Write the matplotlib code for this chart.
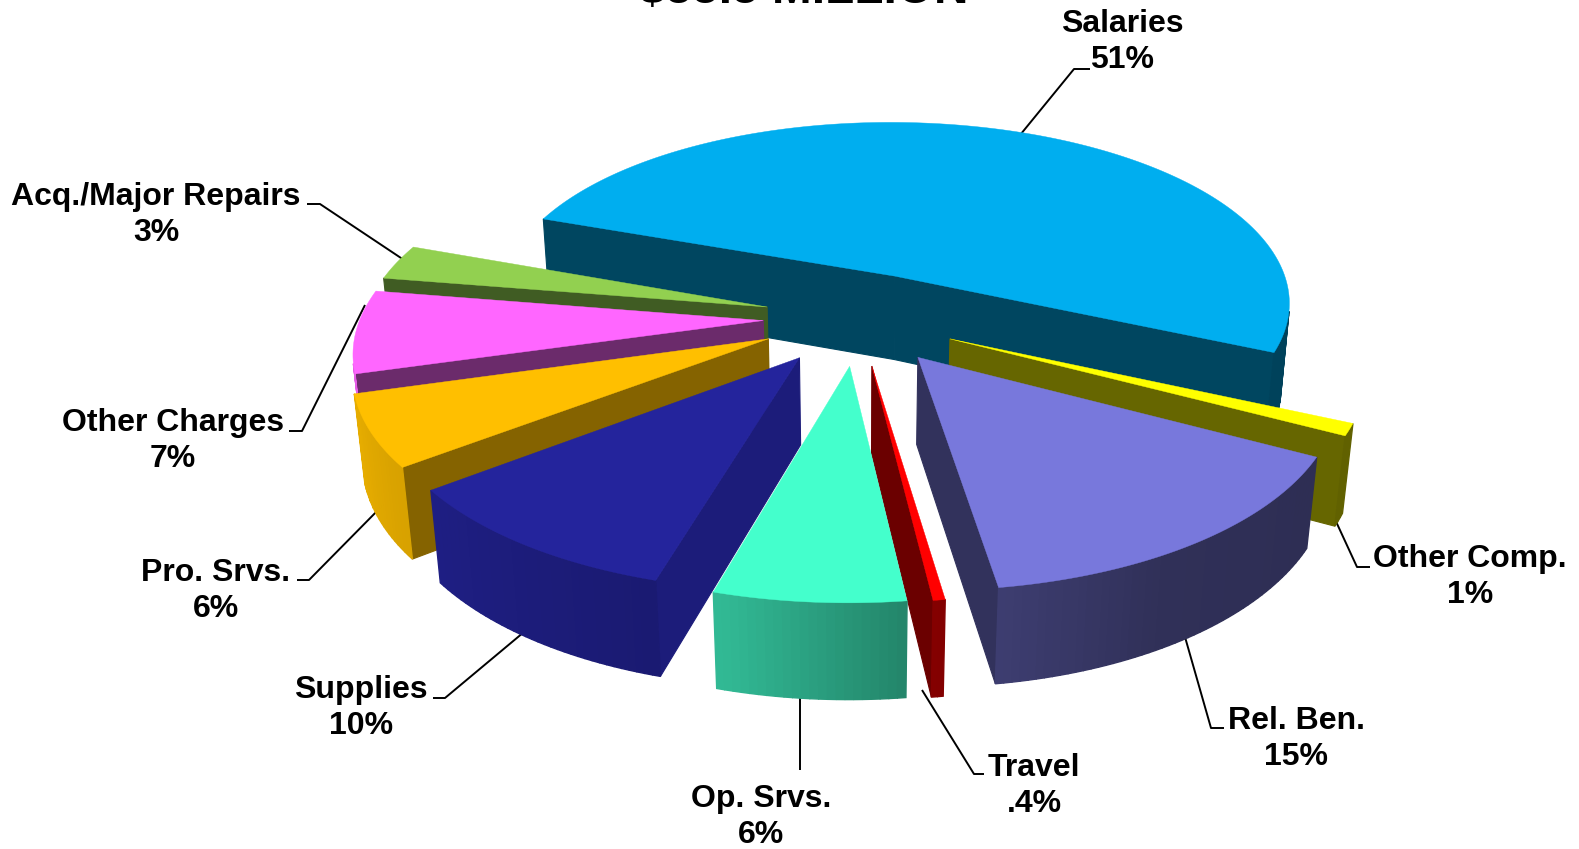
import numpy as np
import matplotlib
matplotlib.use("Agg")
import matplotlib.pyplot as plt

plt.rcParams['font.family'] = ['Liberation Sans', 'DejaVu Sans']

TITLE = "$55.5 MILLION"
names = ['Salaries', 'Other Comp.', 'Rel. Ben.', 'Travel', 'Op. Srvs.',
         'Supplies', 'Pro. Srvs.', 'Other Charges', 'Acq./Major Repairs']
pct_text = ['51%', '1%', '15%', '.4%', '6%', '10%', '6%', '7%', '3%']
values = [51.4, 1, 15, 0.4, 6.4, 10.2, 6, 7, 3]
colors = ['#00AEEF', '#FFFF00', '#7878DC', '#FF0000', '#44FFCC',
          '#24249C', '#FFBF00', '#FF66FF', '#92D050']
wall_shade = [0.40, 0.40, 0.42, 0.42, 0.60, 0.78, 0.52, 0.42, 0.44]
explode = [0.25, 0.25, 0.25, 0.25, 0.25, 0.25, 0.245, 0.235, 0.235]
depth = [1, 1, 1, 1, 1, 1, 1, 0.3, 1]

# label centre and leader line, in pixels
label_pos = [(1122, 42), (1470, 577), (1296, 739), (1034, 786), (761, 817),
             (361, 708), (216, 591), (173, 441), (156, 215)]
leaders = [
    [(1016, 140), (1074, 69), (1090, 69)],
    [(1333, 515), (1357, 567), (1370, 567)],
    [(1183, 630), (1211, 728), (1224, 728)],
    [(922, 690), (974, 774), (984, 774)],
    [(800, 690), (800, 770)],
    [(530, 627), (445, 698), (433, 698)],
    [(385, 503), (309, 580), (297, 580)],
    [(365, 305), (302, 431), (289, 431)],
    [(410, 264), (320, 204), (307, 204)],
]

# projection of the tilted disc
CX, CY = 858, 318
A, B, D = 403, 187, 87
P, Q = 0.144, 0.02
START = 160.0

# wall brightness around the rim
shade_t = [-170, -160, -104, -83, -60, -27, 20]
shade_f = [0.90, 0.90, 0.72, 0.52, 0.40, 0.38, 0.38]


def project(u, v, d=0.0):
    w = 1 + P * v + Q * d
    return CX + A * u / w, CY + (-B * v + D * d) / w


def shoelace(pts):
    x, y = np.array(pts).T
    return np.sum(x * np.roll(y, -1) - np.roll(x, -1) * y)


def rim_shade(t):
    return np.interp(t, shade_t, shade_f)


def darker(color, f):
    r, g, b = matplotlib.colors.to_rgb(color)
    return (r * f, g * f, b * f)


fig = plt.figure(figsize=(15.79, 8.49), dpi=100)
ax = fig.add_axes([0, 0, 1, 1])
ax.set_xlim(0, 1579)
ax.set_ylim(849, 0)
ax.axis('off')

fracs = np.array(values) / sum(values)
ends = START - np.cumsum(fracs) * 360
starts = ends + fracs * 360


def draw_slice(i):
    t1, t2 = ends[i], starts[i]
    d = depth[i]
    mid = np.radians((t1 + t2) / 2)
    ou, ov = explode[i] * np.cos(mid), explode[i] * np.sin(mid)
    ts = np.linspace(t1, t2, max(int(t2 - t1), 2) + 1)
    us = ou + np.cos(np.radians(ts))
    vs = ov + np.sin(np.radians(ts))

    # radial walls first
    for (u0, v0), (u1, v1) in [((ou, ov), (us[0], vs[0])),
                               ((us[-1], vs[-1]), (ou, ov))]:
        quad = [project(u0, v0), project(u1, v1),
                project(u1, v1, d), project(u0, v0, d)]
        if shoelace(quad) > 0:
            c = darker(colors[i], wall_shade[i])
            ax.fill(*zip(*quad), color=c, lw=0.8, zorder=i_z[i])

    # outer wall, one facet at a time for the shading
    for k in range(len(ts) - 1):
        quad = [project(us[k], vs[k]), project(us[k + 1], vs[k + 1]),
                project(us[k + 1], vs[k + 1], d), project(us[k], vs[k], d)]
        if shoelace(quad) > 0:
            c = darker(colors[i], rim_shade((ts[k] + ts[k + 1]) / 2))
            ax.fill(*zip(*quad), color=c, lw=1.0, zorder=i_z[i])

    top = [project(ou, ov)] + [project(u, v) for u, v in zip(us, vs)]
    ax.fill(*zip(*top), color=colors[i], lw=0.3, zorder=i_z[i])


# painter's order, back to front
order = [0, 8, 7, 6, 1, 2, 5, 3, 4]
i_z = {s: n + 1 for n, s in enumerate(order)}
for s in order:
    draw_slice(s)

for pts in leaders:
    ax.plot(*zip(*pts), color='black', lw=1.4, zorder=0.5, solid_capstyle='butt')

for name, pct, (x, y) in zip(names, pct_text, label_pos):
    ax.text(x, y, name + "\n" + pct, ha='center', va='center', fontsize=23,
            fontweight='bold', color='black', linespacing=1.3)

ax.text(804, 3, TITLE, ha='center', va='baseline', fontsize=34.4, fontweight='bold',
        color='black', clip_on=False)

fig.savefig("out.png", dpi=100, facecolor='white')
